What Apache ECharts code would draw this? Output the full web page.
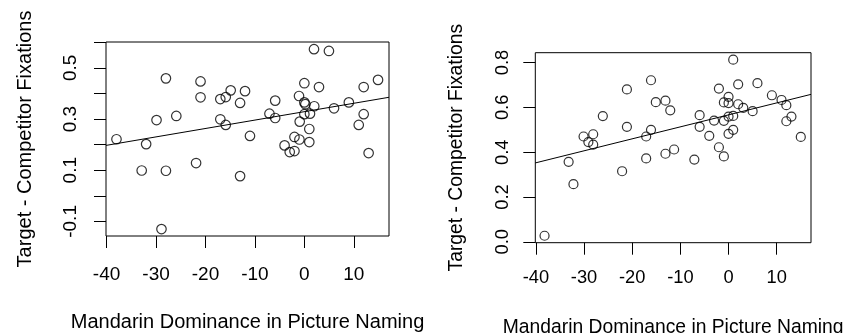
<!DOCTYPE html>
<html><head><meta charset="utf-8">
<script src="https://cdn.jsdelivr.net/npm/echarts@6/dist/echarts.min.js"></script>
<style>html,body{margin:0;padding:0;background:#fff}#c{width:844px;height:333px}</style>
</head><body><div id="c"></div><script>
// Left panel data (dominance, target - competitor fixations)
const leftX = [-38, -32.9, -32, -29.9, -28, -28, -28.9, -25.9, -21.9, -21, -21, -17, -15.9, -14.9, -17, -15.9, -13, -13, -12, -11,
  1.95, 4.97, 14.9, 12, 0, 2.96, -5.9, -1.08, 0, 0.2, 2, 6, 9, -7.06, -5.9, 0, 1.14, -0.94, 1, -2, -1, 1, -4, -2.96, -2, 12, 11, 13];
const leftY = [0.221, 0.099, 0.202, 0.296, 0.459, 0.098, -0.130, 0.312, 0.128, 0.447, 0.385, 0.378, 0.386, 0.412, 0.299, 0.277, 0.363, 0.077, 0.409, 0.234,
  0.573, 0.566, 0.453, 0.425, 0.440, 0.425, 0.372, 0.390, 0.365, 0.358, 0.350, 0.342, 0.365, 0.321, 0.304, 0.319, 0.321, 0.290, 0.261, 0.230, 0.220, 0.210, 0.197, 0.171, 0.175, 0.319, 0.277, 0.167];
// Right panel data
const rightX = [-38.2, -33.2, -32.2, -30.1, -29.1, -28.1, -28.1, -26.1, -22.1, -21.1, -21.1, -17.1, -16.1, -17.1, -16.1, -15.1, -13.1, -12.1, -13.1, -11.3,
  -7.1, -6, -6, -4, -3, -2, -2, -0.97, -0.97, -0.97, 0, 0, 0, 0, 0.97, 0.97, 0.97, 2, 2, 3.06, 5, 6, 9, 11, 12, 12, 13.06, 15];
const rightY = [0.027, 0.357, 0.257, 0.470, 0.445, 0.480, 0.434, 0.561, 0.315, 0.680, 0.513, 0.470, 0.500, 0.372, 0.721, 0.623, 0.630, 0.587, 0.393, 0.412,
  0.367, 0.565, 0.513, 0.473, 0.541, 0.684, 0.422, 0.381, 0.540, 0.622, 0.647, 0.619, 0.559, 0.482, 0.562, 0.500, 0.813, 0.703, 0.614, 0.598, 0.583, 0.708, 0.654, 0.633, 0.610, 0.538, 0.559, 0.468];
// Fitted regression lines (end points)
const leftFitX = [-40.12, 17.12];
const leftFitY = [0.197, 0.385];
const rightFitX = [-40.12, 17.12];
const rightFitY = [0.352, 0.658];
// Tick values
const xTicks = [-40, -30, -20, -10, 0, 10];
const leftYTicks = [-0.1, 0, 0.1, 0.2, 0.3, 0.4, 0.5, 0.6];
const leftYLabels = [-0.1, 0.1, 0.3, 0.5];
const rightYTicks = [0, 0.2, 0.4, 0.6, 0.8];
const xTitle = 'Mandarin Dominance in Picture Naming';
const yTitle = 'Target - Competitor Fixations';

const FONT = 'Liberation Sans, Arial, sans-serif';
const pairs = (xs, ys) => xs.map((x, i) => [x, ys[i]]);

function xAxis(grid, ticks, lab, margin, fs, tfs, gap) {
  return {
    gridIndex: grid, type: 'value', min: -40.12, max: 17.12,
    axisLine: { show: false, onZero: false }, splitLine: { show: false },
    axisTick: { show: true, inside: false, length: 12, customValues: ticks, lineStyle: { color: '#000', width: 1 } },
    axisLabel: { customValues: lab, margin: margin, fontSize: fs, fontFamily: FONT, color: '#000',
      formatter: v => String(Math.round(v)) },
    name: xTitle, nameLocation: 'middle', nameGap: gap,
    nameTextStyle: { fontSize: tfs, fontFamily: FONT, color: '#000' }
  };
}
function yAxis(grid, min, max, ticks, lab, margin, fs, tfs, gap) {
  return {
    gridIndex: grid, type: 'value', min: min, max: max,
    axisLine: { show: false, onZero: false }, splitLine: { show: false },
    axisTick: { show: true, inside: false, length: 12, customValues: ticks, lineStyle: { color: '#000', width: 1 } },
    axisLabel: { customValues: lab, rotate: 90, margin: margin, fontSize: fs, fontFamily: FONT, color: '#000',
      formatter: v => v.toFixed(1) },
    name: yTitle, nameLocation: 'middle', nameGap: gap,
    nameTextStyle: { fontSize: tfs, fontFamily: FONT, color: '#000' }
  };
}
const scatterStyle = (size) => ({
  symbol: 'circle', symbolSize: size,
  itemStyle: { color: 'rgba(0,0,0,0)', borderColor: '#000', borderWidth: 1.2 }
});

const chart = echarts.init(document.getElementById('c'), null, { renderer: 'canvas' });
chart.setOption({
  animation: false,
  backgroundColor: '#fff',
  grid: [
    { left: 106, top: 42, width: 283, height: 194, show: true, borderColor: '#000', borderWidth: 1, backgroundColor: 'transparent', containLabel: false, outerBoundsMode: 'none' },
    { left: 535.3, top: 52.7, width: 275.7, height: 190, show: true, borderColor: '#000', borderWidth: 1, backgroundColor: 'transparent', containLabel: false, outerBoundsMode: 'none' }
  ],
  xAxis: [
    xAxis(0, xTicks, xTicks, 29, 19, 20, 76),
    xAxis(1, xTicks, xTicks, 26.5, 18.3, 19.3, 75)
  ],
  yAxis: [
    yAxis(0, -0.157, 0.601, leftYTicks, leftYLabels, 25.5, 19, 20, 71),
    yAxis(1, -0.004, 0.844, rightYTicks, rightYTicks, 23.8, 18.3, 19.3, 69)
  ],
  series: [
    Object.assign({ type: 'scatter', xAxisIndex: 0, yAxisIndex: 0, data: pairs(leftX, leftY) }, scatterStyle(9.5)),
    { type: 'line', xAxisIndex: 0, yAxisIndex: 0, data: pairs(leftFitX, leftFitY), showSymbol: false, lineStyle: { color: '#000', width: 1 } },
    Object.assign({ type: 'scatter', xAxisIndex: 1, yAxisIndex: 1, data: pairs(rightX, rightY) }, scatterStyle(9)),
    { type: 'line', xAxisIndex: 1, yAxisIndex: 1, data: pairs(rightFitX, rightFitY), showSymbol: false, lineStyle: { color: '#000', width: 1 } }
  ]
});
</script></body></html>
